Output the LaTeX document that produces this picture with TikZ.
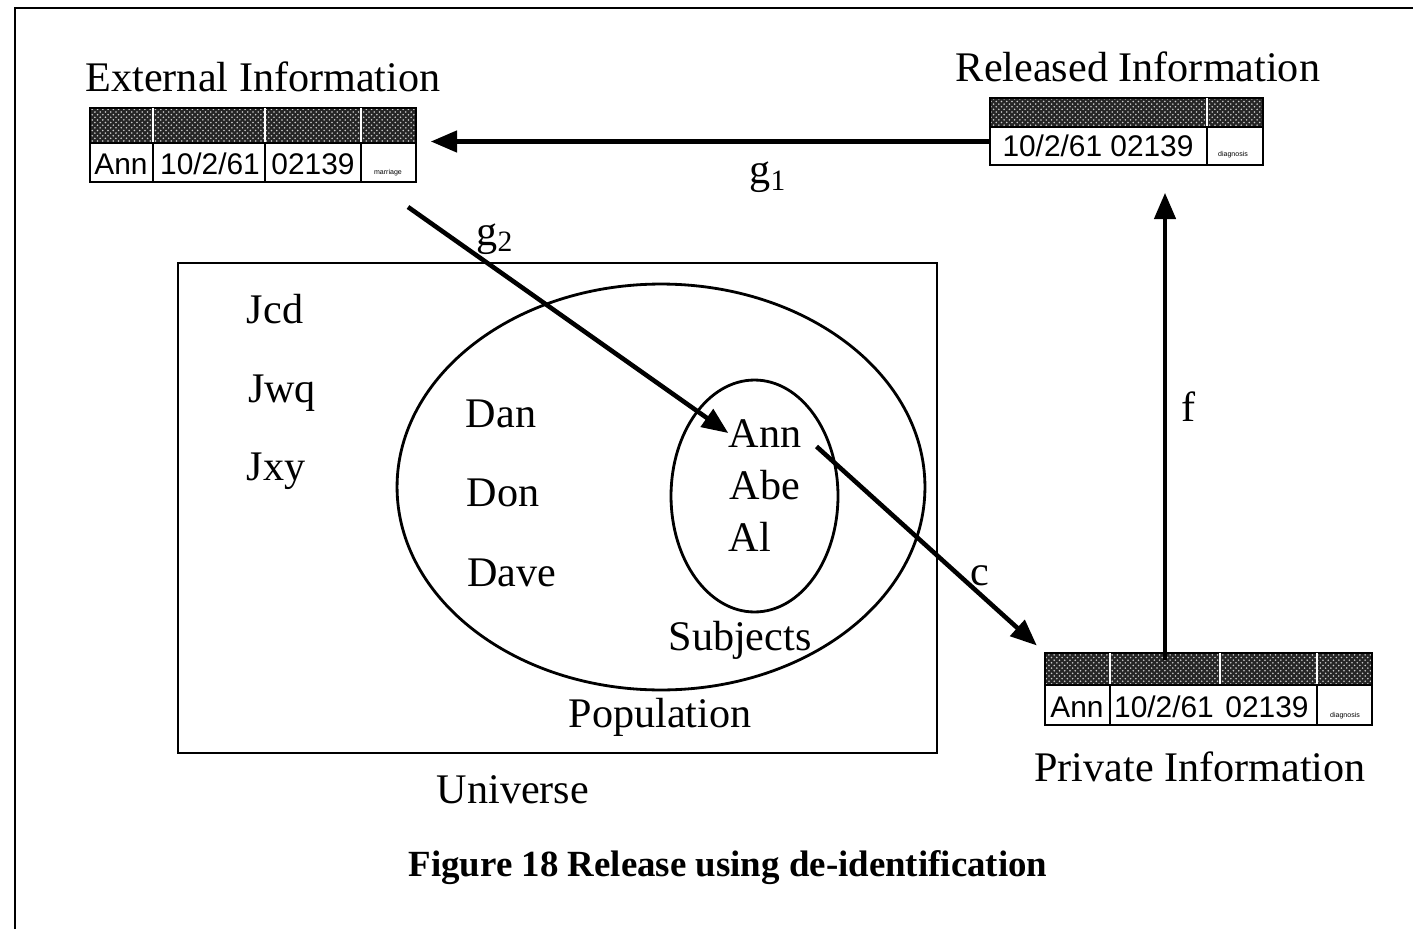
\documentclass[tikz,border=0pt]{standalone}
\usepackage{fontspec}
\setmainfont{Liberation Serif}
\newfontfamily\tablefont{Liberation Sans}
\usetikzlibrary{arrows.meta,patterns,shapes.geometric}
\tikzset{>={Triangle[length=15pt,width=12pt]}}

\begin{document}
\begin{tikzpicture}[x=0.02cm,y=-0.02cm]
  % coordinates in pixels, origin top left, y pointing down
  \tikzstyle{every node}=[inner sep=0pt]
  \tikzstyle{lbl}=[anchor=base, font=\fontsize{24}{28}\selectfont]
  \tikzstyle{cell}=[anchor=base, font=\tablefont\fontsize{17}{19}\selectfont]
  \tikzstyle{tiny}=[anchor=base, font=\tablefont\fontsize{4}{5}\selectfont]
  \tikzstyle{tbl}=[draw, line width=0.9pt, rectangle]
  \tikzstyle{head}=[fill=black!85]
  \tikzstyle{dots}=[pattern=crosshatch dots, pattern color=white!80!black]
  \tikzstyle{link}=[->, line width=2.6pt]
  \useasboundingbox (0,0) rectangle (1415,929);
  \draw[line width=1.2pt] (15,929) -- (15,8) -- (1413,8);

  % universe, population, subjects
  \node[draw, line width=1.6pt, minimum width=15.18cm, minimum height=9.8cm] (univ) at (557.5,508) {};
  \node[draw, ellipse, line width=1.6pt, minimum width=10.56cm, minimum height=8.12cm] (pop) at (661,487) {};
  \node[draw, ellipse, line width=1.6pt, minimum width=3.34cm, minimum height=4.64cm] (subj) at (754.5,496) {};

  \node[lbl] (jcd) at (275,323) {Jcd};
  \node[lbl] (jwq) at (282,402) {Jwq};
  \node[lbl] (jxy) at (276,480) {Jxy};
  \node[lbl] (dan) at (501,427) {Dan};
  \node[lbl] (don) at (503,506) {Don};
  \node[lbl] (dave) at (512,586) {Dave};
  \node[lbl] (ann) at (765,447) {Ann};
  \node[lbl] (abe) at (765,499) {Abe};
  \node[lbl] (al) at (750,551) {Al};
  \node[lbl] (subjlbl) at (740,650) {Subjects};
  \node[lbl] (poplbl) at (660,727) {Population};
  \node[lbl] (univlbl) at (513,803) {Universe};

  % external information
  \node[lbl] (extlbl) at (263,92) {External Information};
  \fill[head] (90,108) rectangle (416,143);
  \fill[dots] (90,108) rectangle (416,143);
  \node[tbl, minimum width=6.52cm, minimum height=1.48cm] (ext) at (253,145) {};
  \foreach \x in {153,265,361} {
    \draw[white, line width=0.8pt] (\x,108) -- (\x,143);
    \draw[line width=0.9pt] (\x,143) -- (\x,182);
  }
  \draw[line width=0.9pt] (90,143) -- (416,143);
  \node[cell] (extA) at (121,174) {Ann};
  \node[cell] (extB) at (210,174) {10/2/61};
  \node[cell] (extC) at (313,174) {02139};
  \node[tiny] (extD) at (388,174) {marriage};

  % released information
  \node[lbl] (rellbl) at (1138,82) {Released Information};
  \fill[head] (990,98) rectangle (1263,127);
  \fill[dots] (990,98) rectangle (1263,127);
  \node[tbl, minimum width=5.46cm, minimum height=1.34cm] (rel) at (1126.5,131.5) {};
  \draw[white, line width=0.8pt] (1207,98) -- (1207,127);
  \draw[line width=0.9pt] (1207,127) -- (1207,165);
  \draw[line width=0.9pt] (990,127) -- (1263,127);
  \node[cell] (relA) at (1098,157) {10/2/61 02139};
  \node[tiny] (relB) at (1233,157) {diagnosis};

  % private information
  \node[lbl] (prvlbl) at (1200,781) {Private Information};
  \fill[head] (1045,653) rectangle (1372,685);
  \fill[dots] (1045,653) rectangle (1372,685);
  \node[tbl, minimum width=6.54cm, minimum height=1.44cm] (prv) at (1208.5,689) {};
  \foreach \x in {1110,1220,1317}
    \draw[white, line width=0.8pt] (\x,653) -- (\x,685);
  \foreach \x in {1110,1317}
    \draw[line width=0.9pt] (\x,685) -- (\x,725);
  \draw[line width=0.9pt] (1045,685) -- (1372,685);
  \node[cell] (prvA) at (1077,717) {Ann};
  \node[cell] (prvB) at (1164,717) {10/2/61};
  \node[cell] (prvC) at (1267,717) {02139};
  \node[tiny] (prvD) at (1345,717) {diagnosis};

  % mappings
  \coordinate (g2s) at (408,207);
  \coordinate (fx) at (1165,0);
  \draw[link, shorten >=0.28cm] ([yshift=-0.2cm]rel.west) -- ([yshift=-0.2cm]rel.west -| ext.east);
  \draw[link] (g2s) -- (ann.west);
  \draw[link, shorten <=0.4cm, shorten >=0.2cm] (ann.east) -- (prv.north west);
  \draw[link, shorten <=-0.16cm, shorten >=0.54cm] (prv.north -| fx) -- (rel.south -| fx);
  \node[lbl] (g1) at (768,184) {g\textsubscript{1}};
  \node[lbl] (g2) at (495,245) {g\textsubscript{2}};
  \node[lbl] (c) at (980,585) {c};
  \node[lbl] (f) at (1188,421) {f};

  \node[anchor=base, font=\bfseries\fontsize{21}{24}\selectfont] (caption) at (728,876) {Figure 18 Release using de-identification};
\end{tikzpicture}
\end{document}
